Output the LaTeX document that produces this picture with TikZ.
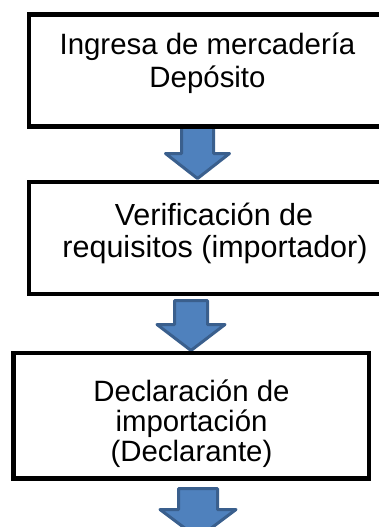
\documentclass[tikz,border=0pt]{standalone}
\usepackage{fontspec}
\setmainfont{Liberation Sans}
\newcommand\bluearrow[6]{% cx, top, headbase, tip, shaft half, head half
  \draw[barrow] (#1-#5,#2) -- (#1+#5,#2) -- (#1+#5,#3) -- (#1+#6,#3)
    -- (#1,#4) -- (#1-#6,#3) -- (#1-#5,#3) -- cycle;}
\begin{document}
\begin{tikzpicture}[x=1pt,y=-1pt,
  box/.style={draw=black, fill=white, line width=4.7pt, inner sep=0pt, rectangle},
  lbl/.style={inner sep=0pt, anchor=base, font=\fontsize{29.4}{32}\selectfont},
  lblbig/.style={lbl, font=\fontsize{30.5}{32}\selectfont},
  barrow/.style={draw=arrowline, fill=arrowfill, line width=3pt, line join=round}]
\definecolor{arrowfill}{HTML}{4F81BD}
\definecolor{arrowline}{HTML}{3A5F8D}
\useasboundingbox (0,0) rectangle (379,527);
\clip (0,0) rectangle (379,527);
% block arrows
\bluearrow{197.5}{124}{153.5}{178.5}{16}{32}
\bluearrow{191}{300.5}{324.5}{350.5}{16.5}{34}
\bluearrow{198}{488.5}{509.5}{538}{19.5}{38}
% boxes
\node[box, minimum width=357pt, minimum height=112pt] (b1) at (207.5,70.3) {};
\node[box, minimum width=370pt, minimum height=112pt] (b2) at (214,238) {};
\node[box, minimum width=355.7pt, minimum height=125.5pt] (b3) at (191.15,415.75) {};
% labels
\node[lbl] (t1a) at (207.5,54.5) {Ingresa de mercadería};
\node[lbl] (t1b) at (207.5,88) {Depósito};
\node[lblbig] (t2a) at (214,225) {Verificación de};
\node[lblbig] (t2b) at (215,257) {requisitos (importador)};
\node[lbl] (t3a) at (191.5,401.5) {Declaración de};
\node[lbl] (t3b) at (191.5,431.5) {importación};
\node[lbl] (t3c) at (191.5,461.5) {(Declarante)};
\end{tikzpicture}
\end{document}
